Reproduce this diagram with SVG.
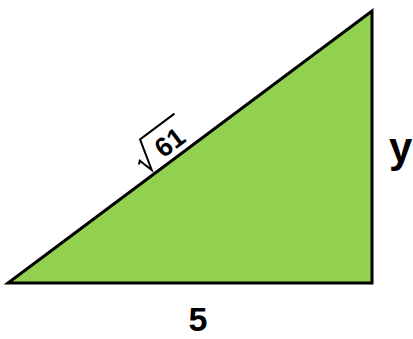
<svg xmlns="http://www.w3.org/2000/svg" width="413" height="339" viewBox="0 0 413 339">
<style>
.lbl{font-family:"Liberation Sans",Arial,sans-serif;font-weight:bold;fill:#000}
.tri{fill:#92D050;stroke:#000;stroke-width:3;stroke-linejoin:miter}
.rad{fill:none;stroke:#000;stroke-width:2;stroke-linejoin:miter}
</style>
<rect width="413" height="339" fill="#fff"/>
<g id="triangle">
<polygon class="tri" points="8,283 372,283 372,11"/>
</g>
<g id="hyp-label" transform="translate(151.7,170) rotate(-36.8)">
<polyline class="rad" points="-7,-12 -4,-14.5 0,0 9,-31.5 52,-31.5"/>
<text class="lbl" x="31" y="-2" font-size="27" text-anchor="middle">61</text>
</g>
<g id="side-y">
<text class="lbl" x="389" y="162" font-size="42">y</text>
</g>
<g id="side-5">
<text class="lbl" x="198" y="331" font-size="34" text-anchor="middle">5</text>
</g>
</svg>
